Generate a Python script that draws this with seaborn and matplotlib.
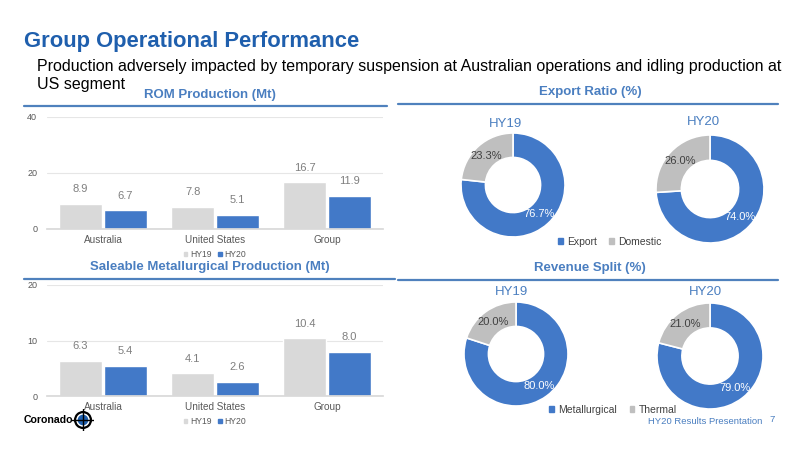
import matplotlib
matplotlib.use("Agg")
import matplotlib.pyplot as plt
from matplotlib.lines import Line2D
from matplotlib.patches import Circle, Patch
import pandas as pd
import seaborn as sns

# data
regions = ["Australia", "United States", "Group"]
periods = ["HY19", "HY20"]
rom_hy19 = [8.9, 7.8, 16.7]
rom_hy20 = [6.7, 5.1, 11.9]
saleable_hy19 = [6.3, 4.1, 10.4]
saleable_hy20 = [5.4, 2.6, 8.0]

export_labels = ["Export", "Domestic"]
export_hy19 = [76.7, 23.3]
export_hy20 = [74.0, 26.0]

revenue_labels = ["Metallurgical", "Thermal"]
revenue_hy19 = [80.0, 20.0]
revenue_hy20 = [79.0, 21.0]

GREY = "#D9D9D9"
PIE_GREY = "#BFBFBF"
BLUE = "#4279C8"
HEAD = "#4A7EC0"
TITLE = "#1F5FAD"

sns.set_theme(style="white")
plt.rcParams["font.family"] = ["Liberation Sans", "DejaVu Sans"]

W, H = 800, 450
fig = plt.figure(figsize=(8, 4.5), dpi=100)


def fx(px):
    return px / W


def fy(py):
    return 1 - py / H


# headings
fig.text(fx(24), fy(42), "Group Operational Performance", color=TITLE,
         fontsize=15.8, fontweight="bold", va="center", ha="left")
fig.text(fx(37), fy(66), "Production adversely impacted by temporary suspension at "
         "Australian operations and idling production at", fontsize=11.5,
         va="center", ha="left", color="black")
fig.text(fx(37), fy(85), "US segment", fontsize=11.5, va="center", ha="left", color="black")

sections = [
    ("ROM Production (Mt)", 210, 95, 24, 387, 106),
    ("Export Ratio (%)", 590, 92, 398, 778, 104),
    ("Saleable Metallurgical Production (Mt)", 210, 267, 24, 395, 279),
    ("Revenue Split (%)", 590, 268, 398, 778, 280),
]
for text, cx, cy, x0, x1, ly in sections:
    fig.text(fx(cx), fy(cy), text, color=HEAD, fontsize=9.5, fontweight="bold",
             ha="center", va="center")
    fig.add_artist(Line2D([fx(x0), fx(x1)], [fy(ly), fy(ly)], color="#4F81BD", lw=1.6))


def bar_chart(rect, hy19, hy20, ymax, step):
    ax = fig.add_axes(rect)
    df = pd.DataFrame({
        "region": regions * 2,
        "period": [periods[0]] * 3 + [periods[1]] * 3,
        "value": hy19 + hy20,
    })
    sns.barplot(data=df, x="region", y="value", hue="period", saturation=1,
                palette=[GREY, BLUE], width=0.8, gap=0.04, legend=False, ax=ax)
    for cont in ax.containers:
        ax.bar_label(cont, fmt="%.1f", padding=7, fontsize=8, color="#7F7F7F")
    ax.set_ylim(0, ymax)
    ax.set_xlim(-0.5, 2.5)
    ax.set_yticks(range(0, ymax + 1, step))
    ax.yaxis.grid(True, color="#E6E6E6", lw=0.8)
    ax.set_axisbelow(True)
    for s in ["top", "right", "left"]:
        ax.spines[s].set_visible(False)
    ax.spines["bottom"].set_color("#D9D9D9")
    ax.tick_params(axis="y", labelsize=6.5, colors="#595959", length=0, pad=7)
    ax.tick_params(axis="x", labelsize=7.2, colors="#595959", length=0, pad=4)
    ax.set_xlabel("")
    ax.set_ylabel("")
    handles = [Patch(color=GREY), Patch(color=BLUE)]
    ax.legend(handles, periods, loc="upper center", bbox_to_anchor=(0.5, -0.12),
              ncol=2, frameon=False, fontsize=6.2, handlelength=0.4, handleheight=0.4,
              handletextpad=0.3, columnspacing=0.8, labelcolor="#595959")
    return ax


bar_chart([fx(47), fy(229), fx(336), (229 - 117) / H], rom_hy19, rom_hy20, 40, 20)
bar_chart([fx(47), fy(396), fx(336), (396 - 285) / H], saleable_hy19, saleable_hy20, 20, 10)


def donut(cx, cy, r, values, title, tx, ty):
    ax = fig.add_axes([fx(cx - r), fy(cy + r), 2 * r / W, 2 * r / H])
    wedges, _, autotexts = ax.pie(values, colors=[BLUE, PIE_GREY], startangle=90,
                                  counterclock=False, autopct="%.1f%%", pctdistance=0.76,
                                  radius=1, wedgeprops=dict(width=0.47, edgecolor="white", lw=1.2),
                                  textprops=dict(fontsize=8))
    autotexts[0].set_color("white")
    autotexts[1].set_color("#404040")
    ax.set_xlim(-1, 1)
    ax.set_ylim(-1, 1)
    ax.set_aspect("equal")
    ax.axis("off")
    fig.text(fx(tx), fy(ty), title, color=HEAD, fontsize=9.5, ha="center", va="center")


donut(513, 185, 52, export_hy19, "HY19", 505, 124)
donut(710, 189, 54, export_hy20, "HY20", 703, 122)
donut(516, 354, 52, revenue_hy19, "HY19", 512, 292)
donut(710, 356, 53, revenue_hy20, "HY20", 705, 292)


def pie_legend(labels, cx, cy):
    handles = [Patch(color=BLUE), Patch(color=PIE_GREY)]
    fig.legend(handles, labels, loc="center", bbox_to_anchor=(fx(cx), fy(cy)), ncol=2,
               frameon=False, fontsize=7.5, handlelength=0.45, handleheight=0.45,
               handletextpad=0.4, columnspacing=1.2, labelcolor="#404040")


pie_legend(export_labels, 610, 242)
pie_legend(revenue_labels, 613, 410)

fig.text(fx(762), fy(421), "HY20 Results Presentation", color=HEAD, fontsize=6.8,
         ha="right", va="center")
fig.text(fx(772), fy(419), "7", color=HEAD, fontsize=6.8, ha="center", va="center")

# logo
fig.text(fx(24), fy(420), "Coronado", color="black", fontsize=7.6, fontweight="bold",
         ha="left", va="center")
lax = fig.add_axes([fx(72), fy(431), 22 / W, 22 / H])
lax.set_xlim(-1, 1)
lax.set_ylim(-1, 1)
lax.set_aspect("equal")
lax.axis("off")
lax.add_patch(Circle((0, 0), 0.72, fill=False, ec="black", lw=1.6))
lax.add_patch(Circle((0, 0), 0.42, color="#1F5FAD"))
lax.plot([-1, 1], [0, 0], color="black", lw=1)
lax.plot([0, 0], [-1, 1], color="black", lw=1)

fig.savefig("out.png", dpi=100)
